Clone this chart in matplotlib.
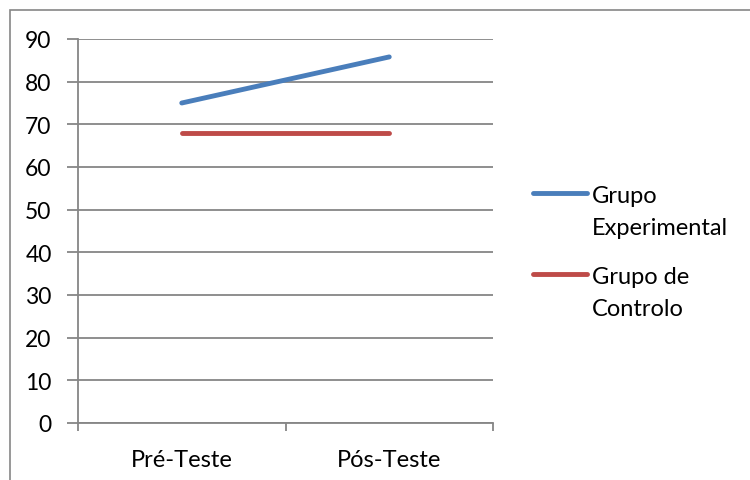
import matplotlib
matplotlib.use("Agg")
import matplotlib.pyplot as plt
from matplotlib.lines import Line2D
from matplotlib.patches import Rectangle

phases = ["Pré-Teste", "Pós-Teste"]
grupo_experimental = [75, 85.8]
grupo_controlo = [68, 68]
y_ticks = [0, 10, 20, 30, 40, 50, 60, 70, 80, 90]
series_labels = ["Grupo\nExperimental", "Grupo de\nControlo"]

plt.rcParams["font.family"] = ["Lato", "DejaVu Sans"]
grid_color = "#868686"
W, H = 750, 481

fig = plt.figure(figsize=(W / 100, H / 100), dpi=100)
ax = fig.add_axes([78 / W, 1 - 424 / H, (493 - 78) / W, (424 - 40) / H])

# outer chart border (right and bottom edges run off the image)
fig.patches.append(Rectangle((10 / W, -0.1), 1.2, 1 - 11 / H + 0.1,
                             transform=fig.transFigure, fill=False,
                             edgecolor=grid_color, linewidth=1.2))

x = list(range(len(phases)))
lines = []
for values, color in [(grupo_experimental, "#4A7EBB"), (grupo_controlo, "#BE4B48")]:
    (ln,) = ax.plot(x, values, color=color, linewidth=3.5, solid_capstyle="round")
    lines.append(ln)

ax.set_xlim(-0.5, len(phases) - 0.5)
ax.set_ylim(0, 90)
ax.set_yticks(y_ticks)
ax.yaxis.grid(True, color=grid_color, linewidth=1.3)
ax.set_axisbelow(True)

ax.set_xticks(x)
ax.set_xticklabels(phases)
ax.set_xticks([-0.5, 0.5, 1.5], minor=True)
ax.tick_params(axis="x", which="major", length=0, pad=19, labelsize=17)
ax.tick_params(axis="x", which="minor", length=6, width=1.3, color=grid_color)
ax.tick_params(axis="y", length=8, width=1.3, color=grid_color, pad=11, labelsize=16.5)

for side in ["top", "right"]:
    ax.spines[side].set_visible(False)
for side in ["left", "bottom"]:
    ax.spines[side].set_color(grid_color)
    ax.spines[side].set_linewidth(1.3)

# legend on the right: handle level with the first text line
legend_rows = [194, 275]
for ln, label, y in zip(lines, series_labels, legend_rows):
    fig.add_artist(Line2D([533 / W, 587 / W], [1 - y / H, 1 - y / H],
                          transform=fig.transFigure, color=ln.get_color(),
                          linewidth=3.5, solid_capstyle="round"))
    for i, part in enumerate(label.split("\n")):
        fig.text(592 / W, 1 - (y + 9 + 32 * i) / H, part, fontsize=17,
                 va="baseline", ha="left")

fig.savefig("out.png", dpi=100)
